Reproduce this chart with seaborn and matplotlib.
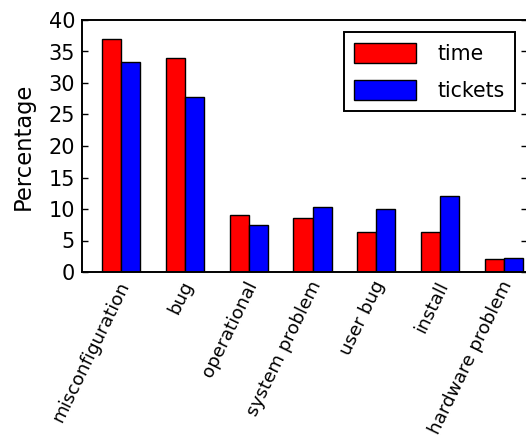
import pandas as pd
import matplotlib
matplotlib.use("Agg")
import matplotlib.pyplot as plt
from matplotlib.transforms import ScaledTranslation
import seaborn as sns

# Values
categories = ['misconfiguration', 'bug', 'operational', 'system problem',
              'user bug', 'install', 'hardware problem']
time_pct = [37.0, 34.0, 9.0, 8.6, 6.4, 6.3, 2.1]
tickets_pct = [33.4, 27.8, 7.5, 10.3, 10.0, 12.1, 2.3]
series_names = ['time', 'tickets']
yticks = [0, 5, 10, 15, 20, 25, 30, 35, 40]

df = pd.DataFrame({
    'category': categories * 2,
    'value': time_pct + tickets_pct,
    'series': [series_names[0]] * len(categories) + [series_names[1]] * len(categories),
})

sns.set_style('ticks')
plt.rcParams['font.family'] = ['DejaVu Sans']
plt.rcParams['text.color'] = 'black'
plt.rcParams['axes.labelcolor'] = 'black'
plt.rcParams['xtick.color'] = 'black'
plt.rcParams['ytick.color'] = 'black'

fig = plt.figure(figsize=(5.26, 4.37), dpi=100)
ax = fig.add_axes([82 / 526, 1 - 272 / 437, 445 / 526, 252 / 437])

sns.barplot(data=df, x='category', y='value', hue='series',
            palette=['#ff0000', '#0000ff'], saturation=1, width=0.6,
            edgecolor='black', linewidth=1.0, ax=ax)

ax.set_xlim(-0.614, 6.363)
ax.set_ylim(0, 40)
ax.set_yticks(yticks)
ax.set_xlabel('')
ax.set_ylabel('Percentage', fontsize=16.3, labelpad=10)

for side in ['left', 'right', 'top', 'bottom']:
    ax.spines[side].set_visible(True)
    ax.spines[side].set_linewidth(1.4)
    ax.spines[side].set_color('black')

ax.tick_params(axis='y', direction='in', right=True, length=4, width=1,
               labelsize=15, pad=5)
ax.tick_params(axis='x', length=0, labelsize=13.2, pad=4.5)
# nudge the rotated labels so their ends sit just right of each group centre
shift = ScaledTranslation(12 / 100, 0, fig.dpi_scale_trans)
for lab in ax.get_xticklabels():
    lab.set_rotation(64)
    lab.set_ha('right')
    lab.set_transform(lab.get_transform() + shift)

handles, labels = ax.get_legend_handles_labels()
leg = ax.legend(handles, labels, loc='upper right', fontsize=14.8,
                frameon=True, fancybox=False, framealpha=1, edgecolor='black',
                handlelength=3.0, handleheight=1.12, handletextpad=1.05,
                labelspacing=0.78, borderpad=0.5, borderaxespad=0.6)
leg.get_frame().set_linewidth(1.4)

fig.savefig('out.png', dpi=100)
